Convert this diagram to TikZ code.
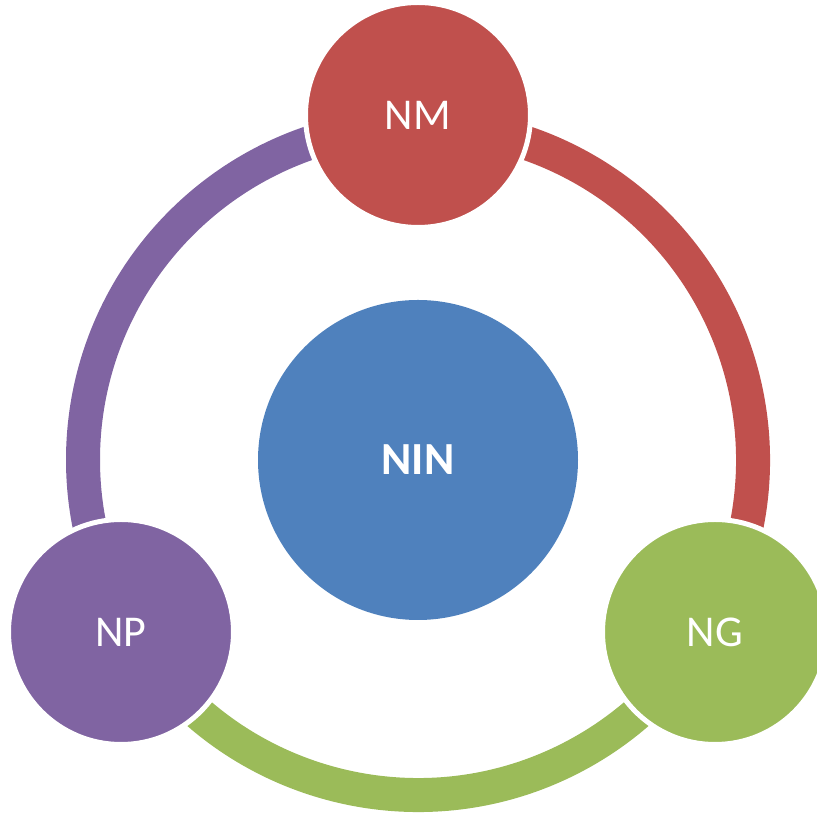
\documentclass[tikz,border=0pt]{standalone}
\usepackage{fontspec}
\setmainfont{Carlito}
\definecolor{cblue}{HTML}{4F81BD}
\definecolor{cred}{HTML}{C0504D}
\definecolor{cgreen}{HTML}{9BBB59}
\definecolor{cpurple}{HTML}{8064A2}
\begin{document}
\begin{tikzpicture}[x=1pt,y=1pt,
  ring/.style={line width=34pt},
  sat/.style={circle, fill=#1, draw=white, line width=5pt, minimum size=225pt, inner sep=0pt,
    text=white, font=\fontsize{44}{50}\selectfont},
  hub/.style={circle, fill=cblue, minimum size=320pt, inner sep=0pt,
    text=white, font=\fontsize{46}{52}\selectfont\bfseries}]
\useasboundingbox (0,0) rectangle (817,813);
\coordinate (C) at (418,353);
\draw[ring, cpurple] (C) ++(90:335) arc[start angle=90, end angle=210, radius=335];
\draw[ring, cred] (C) ++(-30:335) arc[start angle=-30, end angle=90, radius=335];
\draw[ring, cgreen] (C) ++(210:335) arc[start angle=210, end angle=330, radius=335];
\node[hub] (nin) at (C) {NIN};
\node[sat=cred] (nm) at (418,698) {NM};
\node[sat=cgreen] (ng) at (715,181) {NG};
\node[sat=cpurple] (np) at (121,181) {NP};
\end{tikzpicture}
\end{document}
